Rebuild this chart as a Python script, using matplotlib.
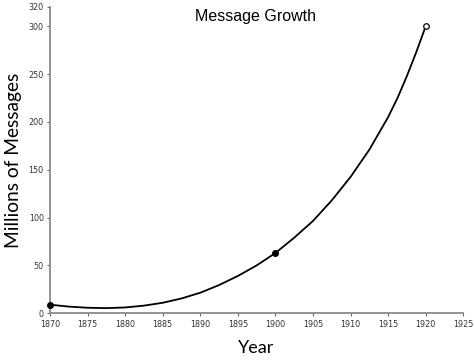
import matplotlib
matplotlib.use("Agg")
import matplotlib.pyplot as plt

# Curve values (year, millions of messages)
years = [1870, 1872.5, 1875, 1877.5, 1880, 1882.5, 1885, 1887.5, 1890, 1892.5,
         1895, 1897.5, 1900, 1902.5, 1905, 1907.5, 1910, 1912.5, 1915,
         1916.25, 1917.5, 1918.75, 1920]
messages = [9, 7, 5.8, 5.4, 6.1, 8, 11, 15.5, 21.5, 29.5,
            39, 50, 63, 79, 96.5, 118, 142.5, 171, 205,
            225, 248, 273, 300]

# Marked points
filled_years = [1870, 1900]
filled_values = [9, 63]
open_years = [1920]
open_values = [300]

xticks = list(range(1870, 1926, 5))
yticks = [0, 50, 100, 150, 200, 250, 300, 320]

fig = plt.figure(figsize=(4.74, 3.6), dpi=100)
ax = fig.add_axes([50/474, 1-313.3/360, (463.3-50)/474, (313.3-7)/360])

ax.plot(years, messages, color="black", lw=1.3, zorder=3, solid_joinstyle="round")
ax.plot(filled_years, filled_values, "o", color="black", ms=4, zorder=4, clip_on=False)
ax.plot(open_years, open_values, "o", mfc="white", mec="black", mew=0.9, ms=4, zorder=4, clip_on=False)

ax.set_xlim(1870, 1925)
ax.set_ylim(0, 320)
ax.set_xticks(xticks)
ax.set_yticks(yticks)

for s in ["top", "right"]:
    ax.spines[s].set_visible(False)
for s in ["left", "bottom"]:
    ax.spines[s].set_color("#8a8a8a")
    ax.spines[s].set_linewidth(1.3)

ax.tick_params(direction="out", length=2.5, width=0.8, color="#666666",
               labelsize=5.8, labelcolor="#333333", pad=2)

ax.set_xlabel("Year", fontsize=13, family="Lato", labelpad=8)
ax.set_ylabel("Millions of Messages", fontsize=13.8, family="Lato", labelpad=5)
fig.text(256/474, 1-17/360, "Message Growth", ha="center", va="center",
         fontsize=11.5, family="Liberation Sans")

fig.savefig("out.png", dpi=100)
